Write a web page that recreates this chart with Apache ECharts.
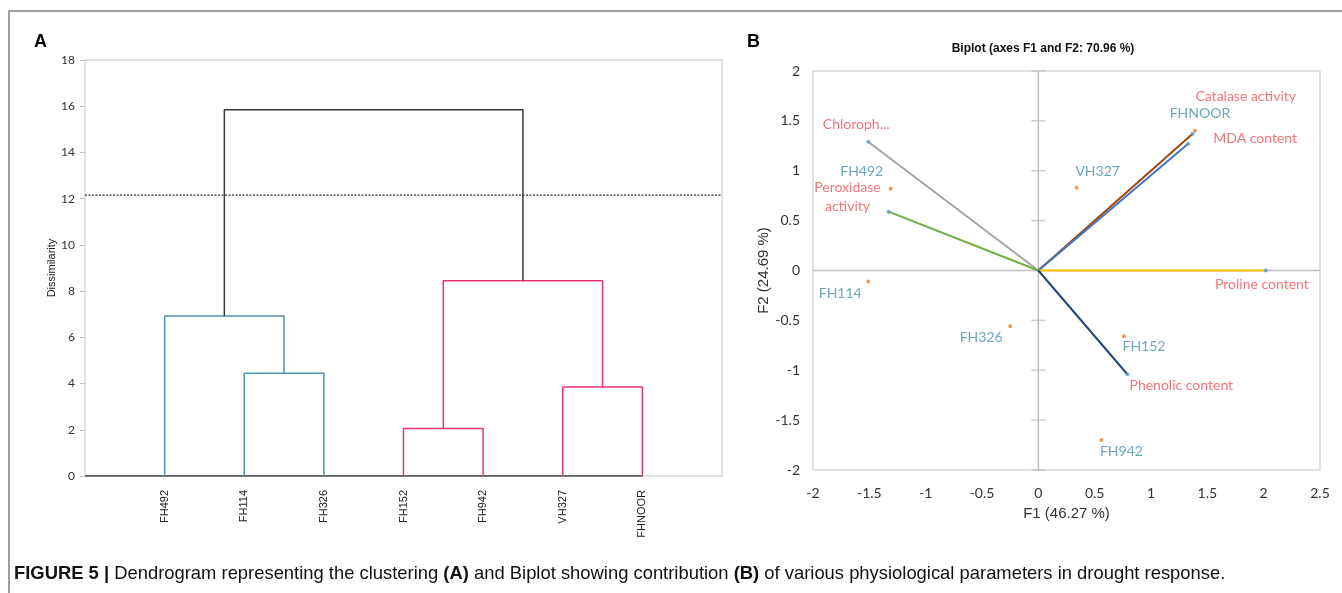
<!DOCTYPE html>
<html>
<head>
<meta charset="utf-8">
<script src="https://cdn.jsdelivr.net/npm/echarts@6/dist/echarts.min.js"></script>
<style>
html,body{margin:0;padding:0;background:#fff;}
#c{width:1342px;height:593px;}
</style>
</head>
<body>
<div id="c"></div>
<script>
// ---------- Data: dendrogram (A) ----------
const leaves = ['FH492', 'FH114', 'FH326', 'FH152', 'FH942', 'VH327', 'FHNOOR'];
const dissimTicks = [0, 2, 4, 6, 8, 10, 12, 14, 16, 18];
// merges: [left, right, height, cluster]
const mergeLeft   = ['FH114', 'FH492', 'FH152', 'VH327', 'C3', 'C2'];
const mergeRight  = ['FH326', 'C1',    'FH942', 'FHNOOR', 'C4', 'C5'];
const mergeHeight = [4.45,    6.92,    2.05,    3.85,     8.45, 15.85];
const mergeGroup  = ['blue',  'blue',  'red',   'red',    'red', 'root'];
const cutLevel = 12.15;

// ---------- Data: biplot (B) ----------
const f1Ticks = [-2, -1.5, -1, -0.5, 0, 0.5, 1, 1.5, 2, 2.5];
const f2Ticks = [-2, -1.5, -1, -0.5, 0, 0.5, 1, 1.5, 2];
const obsNames = ['FH492', 'FH114', 'FH326', 'FH152', 'FH942', 'VH327', 'FHNOOR'];
const obsF1    = [-1.31, -1.51, -0.25, 0.76, 0.56, 0.34, 1.39];
const obsF2    = [0.82, -0.11, -0.56, -0.66, -1.70, 0.83, 1.40];
const varNames = ['Chloroph...', 'Peroxidase\nactivity', 'Catalase activity', 'MDA content', 'Proline content', 'Phenolic content'];
const varF1    = [-1.51, -1.33, 1.37, 1.33, 2.02, 0.79];
const varF2    = [1.29, 0.59, 1.37, 1.27, 0.00, -1.04];

// ---------- Styles (kept separate) ----------
const groupColor = {blue: '#4f93ad', red: '#e8366c', root: '#3a3a3a'};
const varColors = ['#a5a5a5', '#70ad47', '#9e480e', '#4472c4', '#ffc000', '#264478'];
const varLabelOffset = [[-12, -17], [-41, -15], [53, -37], [67, -5], [-4, 14], [54, 11]];
const obsLabelOffset = [[-29, -17], [-28, 12], [-29, 11], [20, 10], [20, 11], [21, -16], [5, -17]];
const RED = '#f0505a', TEAL = '#4a8eaa';

// ---------- Build dendrogram links ----------
const pos = {}, hgt = {};
leaves.forEach((l, i) => { pos[l] = i + 1; hgt[l] = 0; });
const dendroSeries = [];
mergeLeft.forEach((a, i) => {
  const b = mergeRight[i], h = mergeHeight[i];
  const name = 'C' + (i + 1);
  dendroSeries.push({
    type: 'line', xAxisIndex: 0, yAxisIndex: 0, symbol: 'none', silent: true,
    lineStyle: {color: groupColor[mergeGroup[i]], width: 1.5},
    data: [[pos[a], hgt[a]], [pos[a], h], [pos[b], h], [pos[b], hgt[b]]],
    z: 3
  });
  pos[name] = (pos[a] + pos[b]) / 2;
  hgt[name] = h;
});
// baseline and cut line
dendroSeries.push({
  type: 'line', xAxisIndex: 0, yAxisIndex: 0, symbol: 'none', silent: true,
  lineStyle: {color: '#333', width: 1.5},
  data: [[0, 0], [leaves.length, 0]], z: 2
});
dendroSeries.push({
  type: 'line', xAxisIndex: 0, yAxisIndex: 0, symbol: 'none', silent: true,
  lineStyle: {color: '#333', width: 1.2, type: [2, 1.5]},
  data: [[0, cutLevel], [leaves.length + 1, cutLevel]], z: 2
});

// ---------- Biplot series ----------
const bipSeries = [];
bipSeries.push({
  type: 'line', xAxisIndex: 1, yAxisIndex: 1, symbol: 'none', silent: true,
  lineStyle: {color: '#bfbfbf', width: 1.5},
  data: [[f1Ticks[0], 0], [f1Ticks[f1Ticks.length - 1], 0]], z: 1
});
bipSeries.push({
  type: 'line', xAxisIndex: 1, yAxisIndex: 1, symbol: 'none', silent: true,
  lineStyle: {color: '#bfbfbf', width: 1.5},
  data: [[0, f2Ticks[0]], [0, f2Ticks[f2Ticks.length - 1]]], z: 1
});
bipSeries.push({
  type: 'scatter', xAxisIndex: 1, yAxisIndex: 1, silent: true,
  symbol: 'rect', symbolSize: [14, 1.5],
  itemStyle: {color: '#bfbfbf'},
  data: f2Ticks.map(t => [0, t]), z: 1
});
varNames.forEach((n, i) => {
  bipSeries.push({
    type: 'line', xAxisIndex: 1, yAxisIndex: 1, silent: true,
    symbol: 'none',
    lineStyle: {color: varColors[i], width: 2},
    data: [[0, 0], [varF1[i], varF2[i]]], z: 3
  });
});
bipSeries.push({
  type: 'scatter', xAxisIndex: 1, yAxisIndex: 1, silent: true,
  symbolSize: 4, itemStyle: {color: '#5b9bd5'},
  data: varNames.map((n, i) => ({
    value: [varF1[i], varF2[i]],
    label: {show: true, formatter: n, position: 'inside', offset: varLabelOffset[i],
      color: RED, fontFamily: 'Lato', fontSize: 14, align: 'center', lineHeight: 19}
  })), z: 4
});
bipSeries.push({
  type: 'scatter', xAxisIndex: 1, yAxisIndex: 1, silent: true,
  symbolSize: 4, itemStyle: {color: '#ed7d31'},
  data: obsNames.map((n, i) => ({
    value: [obsF1[i], obsF2[i]],
    label: {show: true, formatter: n, position: 'inside', offset: obsLabelOffset[i],
      color: TEAL, fontFamily: 'Lato', fontSize: 14, align: 'center'}
  })), z: 4
});

const chart = echarts.init(document.getElementById('c'), null, {renderer: 'canvas'});
chart.setOption({
  animation: false,
  backgroundColor: '#fff',
  grid: [
    {left: 85, top: 60, width: 637, height: 416, show: true, borderColor: '#d9d9d9', borderWidth: 1.5},
    {left: 813, top: 71, width: 507, height: 399, show: true, borderColor: '#d9d9d9', borderWidth: 1.5}
  ],
  xAxis: [
    {
      type: 'value', gridIndex: 0, min: 0, max: leaves.length + 1, interval: 1,
      axisLine: {show: false}, axisTick: {show: false}, splitLine: {show: false},
      axisLabel: {
        rotate: 90, margin: 14, color: '#222', fontFamily: 'Liberation Sans', fontSize: 11,
        formatter: v => leaves[v - 1] || ''
      }
    },
    {
      type: 'value', gridIndex: 1, min: f1Ticks[0], max: f1Ticks[f1Ticks.length - 1], interval: 0.5,
      axisLine: {show: false}, axisTick: {show: false}, splitLine: {show: false},
      axisLabel: {margin: 16, color: '#333', fontFamily: 'Lato', fontSize: 14},
      name: 'F1 (46.27 %)', nameLocation: 'middle', nameGap: 36,
      nameTextStyle: {color: '#333', fontFamily: 'Liberation Sans', fontSize: 15}
    }
  ],
  yAxis: [
    {
      type: 'value', gridIndex: 0, min: dissimTicks[0], max: dissimTicks[dissimTicks.length - 1], interval: 2,
      axisLine: {show: false},
      axisTick: {show: true, length: 5, lineStyle: {color: '#bfbfbf'}},
      splitLine: {show: false},
      axisLabel: {margin: 10, color: '#333', fontFamily: 'Lato', fontSize: 12},
      name: 'Dissimilarity', nameLocation: 'middle', nameGap: 24,
      nameTextStyle: {color: '#222', fontFamily: 'Liberation Sans', fontSize: 11}
    },
    {
      type: 'value', gridIndex: 1, min: f2Ticks[0], max: f2Ticks[f2Ticks.length - 1], interval: 0.5,
      axisLine: {show: false}, axisTick: {show: false}, splitLine: {show: false},
      axisLabel: {margin: 13, color: '#333', fontFamily: 'Lato', fontSize: 14},
      name: 'F2 (24.69 %)', nameLocation: 'middle', nameGap: 42,
      nameTextStyle: {color: '#333', fontFamily: 'Liberation Sans', fontSize: 15}
    }
  ],
  title: [
    {text: 'A', left: 29, top: 28, textStyle: {fontFamily: 'Liberation Sans', fontWeight: 'bold', fontSize: 18, color: '#000'}},
    {text: 'B', left: 742, top: 28, textStyle: {fontFamily: 'Liberation Sans', fontWeight: 'bold', fontSize: 18, color: '#000'}},
    {text: 'Biplot (axes F1 and F2: 70.96 %)', left: 1038, top: 38, textAlign: 'center',
      textStyle: {fontFamily: 'Liberation Sans', fontWeight: 'bold', fontSize: 12, color: '#111'}},
    {
      text: '{b|FIGURE 5 | }{n|Dendrogram representing the clustering }{b|(A)}{n| and Biplot showing contribution }{b|(B)}{n| of various physiological parameters in drought response.}',
      left: 9, top: 560,
      textStyle: {
        fontWeight: 'normal',
        rich: {
          b: {fontFamily: 'Liberation Sans', fontWeight: 'bold', fontSize: 18.4, color: '#111'},
          n: {fontFamily: 'Liberation Sans', fontWeight: 'normal', fontSize: 18.4, color: '#111'}
        }
      }
    }
  ],
  graphic: [
    {type: 'polyline', shape: {points: [[9, 600], [9, 11], [1350, 11]]}, style: {stroke: '#7f7f7f', lineWidth: 1.5, fill: null}, silent: true}
  ],
  series: dendroSeries.concat(bipSeries)
});
</script>
</body>
</html>
